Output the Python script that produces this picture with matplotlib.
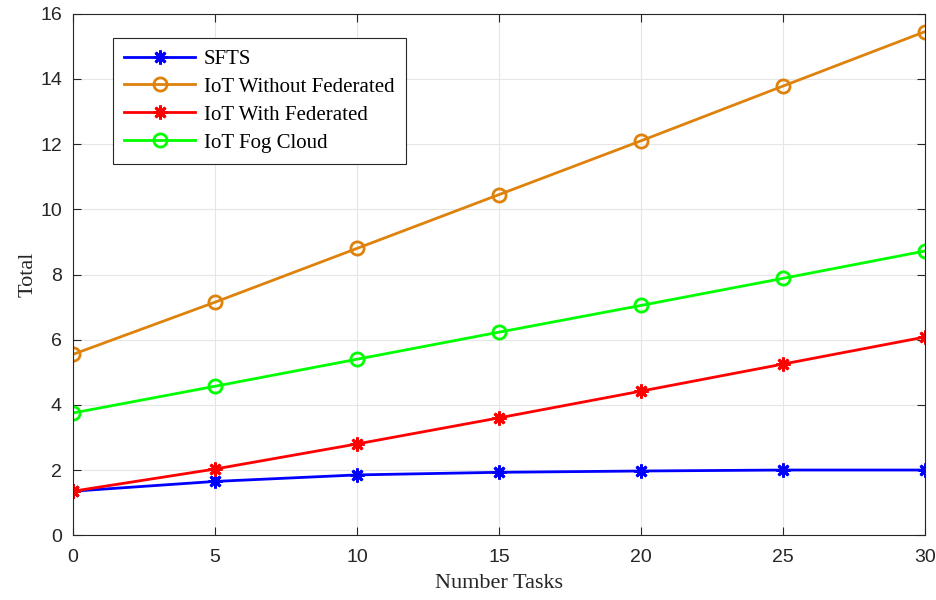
import matplotlib
matplotlib.use("Agg")
import matplotlib.pyplot as plt

tasks = [0, 5, 10, 15, 20, 25, 30]
sfts = [1.35, 1.65, 1.85, 1.93, 1.97, 2.0, 2.0]
iot_without_fed = [5.55, 7.15, 8.8, 10.45, 12.1, 13.78, 15.45]
iot_with_fed = [1.35, 2.03, 2.8, 3.6, 4.42, 5.25, 6.08]
iot_fog_cloud = [3.75, 4.57, 5.4, 6.23, 7.05, 7.88, 8.72]

orange = "#DE820C"
star = (8, 2, 0)

fig = plt.figure(figsize=(9.36, 6), dpi=100)
ax = fig.add_axes([0.078, 0.108, 0.91, 0.869])

lw = 2.0
ax.plot(tasks, sfts, color="blue", lw=lw, marker=star, ms=10, mew=2, label="SFTS")
ax.plot(tasks, iot_without_fed, color=orange, lw=lw, marker="o", ms=9.5, mew=2,
        mfc="none", label="IoT Without Federated")
ax.plot(tasks, iot_with_fed, color="red", lw=lw, marker=star, ms=10, mew=2,
        label="IoT With Federated")
ax.plot(tasks, iot_fog_cloud, color="#00FF00", lw=lw, marker="o", ms=9.5, mew=2,
        mfc="none", label="IoT Fog Cloud")

ax.set_xlim(0, 30)
ax.set_ylim(0, 16)
ax.set_xticks(range(0, 31, 5))
ax.set_yticks(range(0, 17, 2))
ax.grid(True, color="#e6e6e6", lw=0.8)
ax.set_axisbelow(True)
ax.tick_params(direction="in", top=True, right=True, length=6, color="#262626",
               labelsize=14, labelcolor="#262626")
ax.tick_params(axis="x", pad=10)
ax.tick_params(axis="y", pad=8)
for lab in ax.get_xticklabels() + ax.get_yticklabels():
    lab.set_family("Liberation Sans")
for s in ax.spines.values():
    s.set_color("#262626")
    s.set_linewidth(0.8)

ax.set_xlabel("Number Tasks", family="Liberation Serif", fontsize=16, color="#262626", labelpad=6)
ax.set_ylabel("Total", family="Liberation Serif", fontsize=16, color="#262626", labelpad=2)

leg = ax.legend(loc="upper left", bbox_to_anchor=(0.047, 0.954), borderaxespad=0,
                prop={"family": "Liberation Serif", "size": 15},
                fancybox=False, edgecolor="#262626", framealpha=1, handlelength=3.4,
                handletextpad=0.4, borderpad=0.55, labelspacing=0.4)
leg.get_frame().set_linewidth(0.8)

fig.savefig("out.png", dpi=100)
